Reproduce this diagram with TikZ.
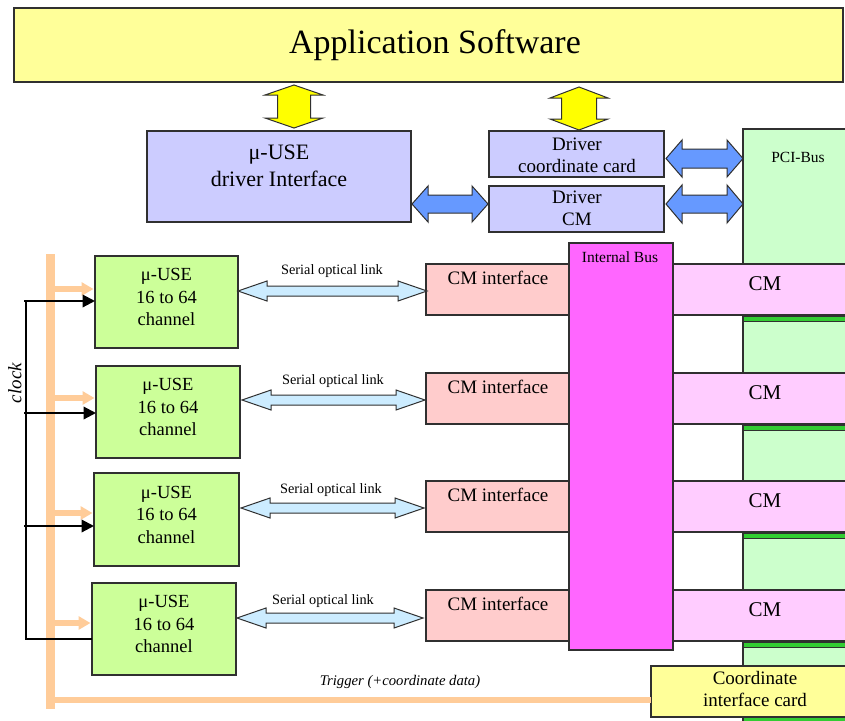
\documentclass[tikz,border=0pt]{standalone}
\usepackage{fontspec}
\setmainfont{Liberation Serif}
\usetikzlibrary{arrows.meta,fit}

\definecolor{appyellow}{HTML}{FFFF99}
\definecolor{brightyellow}{HTML}{FFFF00}
\definecolor{drvblue}{HTML}{CCCCFF}
\definecolor{linkblue}{HTML}{6699FF}
\definecolor{pcigreen}{HTML}{CCFFCC}
\definecolor{slotgreen}{HTML}{33CC33}
\definecolor{usegreen}{HTML}{CCFF99}
\definecolor{cmifpink}{HTML}{FFCCCC}
\definecolor{busmagenta}{HTML}{FF66FF}
\definecolor{cmpink}{HTML}{FFCCFF}
\definecolor{optblue}{HTML}{CCECFF}
\definecolor{trigorange}{HTML}{FFCC99}
\definecolor{edge}{HTML}{303030}

% horizontal block double arrow: x1, x2, yc, shaft half, head half, head length, style
\newcommand{\hblockarrow}[7]{%
  \filldraw[#7] (#1,#3) -- (#1+#6,#3-#5) -- (#1+#6,#3-#4) -- (#2-#6,#3-#4)
    -- (#2-#6,#3-#5) -- (#2,#3) -- (#2-#6,#3+#5) -- (#2-#6,#3+#4)
    -- (#1+#6,#3+#4) -- (#1+#6,#3+#5) -- cycle;}
% vertical block double arrow: xc, y1, y2, shaft half, head half, head length, style
\newcommand{\vblockarrow}[7]{%
  \filldraw[#7] (#1,#2) -- (#1+#5,#2+#6) -- (#1+#4,#2+#6) -- (#1+#4,#3-#6)
    -- (#1+#5,#3-#6) -- (#1,#3) -- (#1-#5,#3-#6) -- (#1-#4,#3-#6)
    -- (#1-#4,#2+#6) -- (#1-#5,#2+#6) -- cycle;}

\tikzset{
  blk/.style={inner sep=0pt, outer sep=0pt, draw=edge, line width=1.2pt},
  txt/.style={inner sep=0pt, align=center},
  fbig/.style={font=\fontsize{34}{38}\selectfont},
  fmid/.style={font=\fontsize{22}{27}\selectfont},
  fcm/.style={font=\fontsize{21}{25}\selectfont},
  fnorm/.style={font=\fontsize{19}{22}\selectfont},
  fuse/.style={font=\fontsize{18.5}{22.5}\selectfont},
  fsmall/.style={font=\fontsize{15.5}{18}\selectfont},
  ftiny/.style={font=\fontsize{14.3}{16}\selectfont},
  feed/.style={draw=trigorange, line width=6pt, -{Triangle[length=12pt,width=13pt]}, shorten >=1.5pt},
  clk/.style={draw=black, line width=2.2pt, -{Triangle[length=12.5pt,width=12.5pt]}},
  slot/.style={fill=slotgreen, draw=edge, line width=1pt, inner sep=0pt},
  flat/.style={draw=edge, line width=1pt},
}

\begin{document}
\begin{tikzpicture}[x=1pt,y=-1pt]
\useasboundingbox (0,0) rectangle (845,720);
\clip (0,0) rectangle (845,720);
\fill[white] (0,0) rectangle (845,720);

% application layer
\node[blk, fill=appyellow, fit={(14,8) (843,82)}] (app) {};
\node[txt, fbig] at (435,45) {Application Software};

% drivers
\node[blk, fill=drvblue, fit={(147,131) (411,222)}] (drvif) {};
\node[txt, fmid] at (279,166) {μ-USE\\driver Interface};
\node[blk, fill=drvblue, fit={(489,131) (664,177)}] (drvcc) {};
\node[txt, fnorm] at (577,155) {Driver\\coordinate card};
\node[blk, fill=drvblue, fit={(489,186) (664,232)}] (drvcm) {};
\node[txt, fnorm] at (577,208.5) {Driver\\CM};

\vblockarrow{294}{85}{128}{16.5}{29}{10}{fill=brightyellow, flat}
\vblockarrow{579}{87}{130}{17.5}{29}{11}{fill=brightyellow, flat}

% PCI bus with its slots
\node[blk, fill=pcigreen, fit={(743,129) (870,760)}] (pci) {};
\node[txt, fsmall] at (798,157) {PCI-Bus};

\hblockarrow{412}{488}{204}{9}{18}{16}{fill=linkblue, flat}
\hblockarrow{666}{743}{158.5}{9.5}{18.5}{16}{fill=linkblue, flat}
\hblockarrow{666}{743}{204}{9}{19}{16}{fill=linkblue, flat}

\node[slot, fit={(743,316) (870,321)}] (slot1) {};
\node[slot, fit={(743,425) (870,430)}] (slot2) {};
\node[slot, fit={(743,533) (870,538)}] (slot3) {};
\node[slot, fit={(743,642) (870,647)}] (slot4) {};
\node[slot, fit={(743,717) (870,722)}] (slot5) {};

% CM cards on the PCI bus
\node[blk, fill=cmpink, fit={(673,264) (870,315)}] (cm1) {};
\node[blk, fill=cmpink, fit={(673,373) (870,424)}] (cm2) {};
\node[blk, fill=cmpink, fit={(673,481) (870,532)}] (cm3) {};
\node[blk, fill=cmpink, fit={(673,590) (870,641)}] (cm4) {};
\node[txt, fcm] at (765,284) {CM};
\node[txt, fcm] at (765,393) {CM};
\node[txt, fcm] at (765,501) {CM};
\node[txt, fcm] at (765,610) {CM};

% CM interfaces and internal bus
\node[blk, fill=cmifpink, fit={(426,264) (569,315)}] (cmif1) {};
\node[blk, fill=cmifpink, fit={(426,373) (569,424)}] (cmif2) {};
\node[blk, fill=cmifpink, fit={(426,481) (569,532)}] (cmif3) {};
\node[blk, fill=cmifpink, fit={(426,590) (569,641)}] (cmif4) {};
\node[txt, fnorm] at (498,278) {CM interface};
\node[txt, fnorm] at (498,387) {CM interface};
\node[txt, fnorm] at (498,495) {CM interface};
\node[txt, fnorm] at (498,604) {CM interface};

\node[blk, fill=busmagenta, fit={(569,243) (673,650)}] (bus) {};
\node[txt, fsmall] at (620,257) {Internal Bus};

% front-end modules
\node[blk, fill=usegreen, fit={(95,256) (238,348)}] (use1) {};
\node[blk, fill=usegreen, fit={(96,366) (240,458)}] (use2) {};
\node[blk, fill=usegreen, fit={(94,473) (239,566)}] (use3) {};
\node[blk, fill=usegreen, fit={(92,583) (236,675)}] (use4) {};
\node[txt, fuse] at ([yshift=5pt]use1.center) {μ-USE\\16 to 64\\channel};
\node[txt, fuse] at ([yshift=5pt]use2.center) {μ-USE\\16 to 64\\channel};
\node[txt, fuse] at ([yshift=5pt]use3.center) {μ-USE\\16 to 64\\channel};
\node[txt, fuse] at ([yshift=5pt]use4.center) {μ-USE\\16 to 64\\channel};

% serial optical links
\hblockarrow{238}{427}{291}{5}{10}{29}{fill=optblue, flat}
\hblockarrow{242}{425}{400}{5}{10}{29}{fill=optblue, flat}
\hblockarrow{241}{424}{508}{5}{10}{29}{fill=optblue, flat}
\hblockarrow{237}{423}{618}{5}{10}{29}{fill=optblue, flat}
\node[txt, ftiny] at (332,271) {Serial optical link};
\node[txt, ftiny] at (333,381) {Serial optical link};
\node[txt, ftiny] at (331,490) {Serial optical link};
\node[txt, ftiny] at (323,601) {Serial optical link};

% coordinate interface card
\node[blk, fill=appyellow, fit={(651,666) (860,717)}] (coord) {};
\node[txt, fnorm] at (755,689) {Coordinate\\interface card};

% trigger distribution
\draw[trigorange, line width=9pt] (50,254) -- (50,709);
\coordinate (tr) at (55,700);
\draw[trigorange, line width=6pt] (tr) -- (tr -| coord.west);
\node[txt, font=\fontsize{14.7}{17}\selectfont\itshape] at (400,682) {Trigger (+coordinate data)};
\coordinate (o1) at (55,289);
\coordinate (o2) at (55,398);
\coordinate (o3) at (55,513);
\coordinate (o4) at (55,623);
\draw[feed] (o1) -- (o1 -| use1.west);
\draw[feed] (o2) -- (o2 -| use2.west);
\draw[feed] (o3) -- (o3 -| use3.west);
\draw[feed] (o4) -- (o4 -| use4.west);

% clock distribution
\coordinate (c1) at (24,301);
\coordinate (c2) at (24,413);
\coordinate (c3) at (24,526);
\coordinate (c4) at (26,639);
\draw[black, line width=1.2pt] (26,301) -- (c4) -- (c4 -| use4.west);
\draw[clk] (c1) -- (c1 -| use1.west);
\draw[clk] (c2) -- (c2 -| use2.west);
\draw[clk] (c3) -- (c3 -| use3.west);
\node[txt, rotate=90, font=\fontsize{19}{22}\selectfont\itshape] at (15,383) {clock};
\end{tikzpicture}
\end{document}
